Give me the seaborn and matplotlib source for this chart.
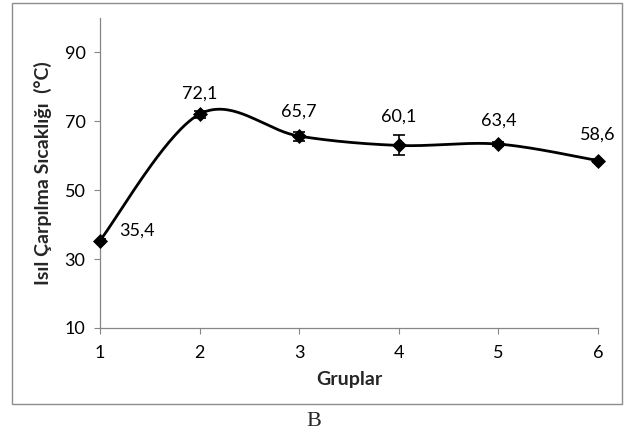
import numpy as np
import pandas as pd
import matplotlib
matplotlib.use("Agg")
import matplotlib.pyplot as plt
from matplotlib.patches import Rectangle
import seaborn as sns

# ---- data ----
groups = [1, 2, 3, 4, 5, 6]
values = [35.4, 72.1, 65.7, 63.0, 63.4, 58.6]
errors = [0.5, 1.0, 1.3, 2.9, 0.6, 0.5]
labels = ["35,4", "72,1", "65,7", "60,1", "63,4", "58,6"]
yticks = [10, 30, 50, 70, 90]

sns.set_theme(style="white")
plt.rcParams['font.family'] = ['Lato', 'DejaVu Sans']

fig = plt.figure(figsize=(6.28, 4.37), dpi=100)
W, H = 628, 437
ax = fig.add_axes([100 / W, 1 - 328 / H, 498 / W, (328 - 18) / H])

# smoothed (Excel-like Catmull-Rom) curve through the points
def smooth(xs, ys, n=40):
    xs = np.asarray(xs, float); ys = np.asarray(ys, float)
    px = np.concatenate([[xs[0]], xs, [xs[-1]]])
    py = np.concatenate([[ys[0]], ys, [ys[-1]]])
    ox, oy = [], []
    for i in range(1, len(px) - 2):
        p0x, p1x, p2x, p3x = px[i - 1], px[i], px[i + 1], px[i + 2]
        p0y, p1y, p2y, p3y = py[i - 1], py[i], py[i + 1], py[i + 2]
        c1x = p1x + (p2x - p0x) / 6; c1y = p1y + (p2y - p0y) / 6
        c2x = p2x - (p3x - p1x) / 6; c2y = p2y - (p3y - p1y) / 6
        t = np.linspace(0, 1, n)
        bx = (1 - t) ** 3 * p1x + 3 * (1 - t) ** 2 * t * c1x + 3 * (1 - t) * t ** 2 * c2x + t ** 3 * p2x
        by = (1 - t) ** 3 * p1y + 3 * (1 - t) ** 2 * t * c1y + 3 * (1 - t) * t ** 2 * c2y + t ** 3 * p2y
        ox.extend(bx); oy.extend(by)
    return np.array(ox), np.array(oy)

sx, sy = smooth(groups, values)
curve = pd.DataFrame({"x": sx, "y": sy})
sns.lineplot(data=curve, x="x", y="y", ax=ax, color="black", linewidth=2.0,
             sort=False, estimator=None, clip_on=False)

df = pd.DataFrame({"Gruplar": groups, "val": values, "err": errors})
ax.errorbar(df["Gruplar"], df["val"], yerr=df["err"], fmt="none",
            ecolor="black", elinewidth=1.2, capsize=4, capthick=1.2, zorder=3)
sns.scatterplot(data=df, x="Gruplar", y="val", ax=ax, marker="D", s=50,
                color="black", edgecolor="black", zorder=4, clip_on=False)

offsets = [(27, 7), (0, 15), (0, 18), (0, 21), (0, 17), (0, 19)]
for g, v, lab, off in zip(groups, values, labels, offsets):
    ax.annotate(lab, (g, v), xytext=off, textcoords="offset points",
                ha="center", va="center", fontsize=13, color="black")

ax.set_xlim(1, 6)
ax.set_ylim(10, 100)
ax.set_yticks(yticks)
ax.set_xticks(groups)
ax.set_xticklabels([str(g) for g in groups])
ax.tick_params(axis="both", direction="out", length=4.5, width=0.8,
               colors="#868686", labelcolor="black", labelsize=13,
               left=True, bottom=True)
ax.tick_params(axis="x", pad=8)
ax.tick_params(axis="y", pad=6)
for s in ["top", "right"]:
    ax.spines[s].set_visible(False)
for s in ["left", "bottom"]:
    ax.spines[s].set_color("#868686")
    ax.spines[s].set_linewidth(0.9)

ax.set_xlabel("Gruplar", fontsize=14, fontweight="bold", labelpad=7)
ax.set_ylabel("Isıl Çarpılma Sıcaklığı  (°C)", fontsize=14, fontweight="bold", labelpad=9)

# outer chart frame
fig.patches.append(Rectangle((12 / W, 1 - 404 / H), (622 - 12) / W, (404 - 3) / H,
                             transform=fig.transFigure, fill=False,
                             edgecolor="#8c8c8c", linewidth=1.0))
fig.text(314 / W, 1 - 421 / H, "B", ha="center", va="center",
         fontsize=16, family="Liberation Serif")

fig.savefig("out.png", dpi=100)
